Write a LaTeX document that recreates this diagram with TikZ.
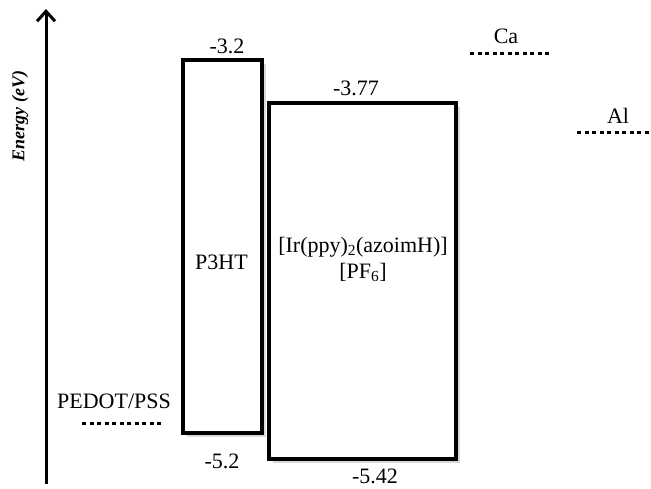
\documentclass[tikz,border=0pt]{standalone}
\usepackage{fontspec}
\setmainfont{Liberation Serif}
\usetikzlibrary{shadows,arrows.meta}
\begin{document}
\begin{tikzpicture}[x=1pt,y=-1pt,
  lvlbox/.style={draw=black,line width=3.5pt,fill=white,inner sep=0pt,
    drop shadow={opacity=0.3,shadow xshift=4pt,shadow yshift=-4pt}},
  lbl/.style={font=\fontsize{22}{26}\selectfont,inner sep=0pt},
  dotline/.style={line width=3pt,dash pattern=on 4pt off 3.5pt},
]
\useasboundingbox (0,0) rectangle (651,488);
% axis
\coordinate (axb) at (46,484);
\coordinate (axt) at (46,9);
\draw[line width=3pt,-{Straight Barb[length=10pt,width=18pt,line width=3pt]}] (axb) -- (axt);
\node[rotate=90,font=\fontsize{18}{20}\selectfont\bfseries\itshape,inner sep=0pt] (en) at (20,116) {Energy (eV)};
% boxes
\node[lvlbox,minimum width=79pt,minimum height=373pt] (p3ht) at (222.5,246.5) {};
\node[lvlbox,minimum width=187pt,minimum height=356pt] (ir) at (362.5,281) {};
% texts in boxes
\node[lbl] (p3htt) at (221.5,262) {P3HT};
\node[lbl,align=center,font=\fontsize{22}{26}\selectfont] (irt) at (363,259) {[Ir(ppy)\textsubscript{2}(azoimH)]\\{}[PF\textsubscript{6}]};
% energy values
\node[lbl] (v1) at (227,46) {-3.2};
\node[lbl] (v2) at (356,88) {-3.77};
\node[lbl] (v3) at (222,461) {-5.2};
\node[lbl] (v4) at (375,476) {-5.42};
% electrodes
\coordinate (pa) at (82,423);
\coordinate (pb) at (163,423);
\draw[dotline] (pa) -- (pb);
\node[lbl] (ped) at (114,401) {PEDOT/PSS};
\coordinate (caa) at (470,53);
\coordinate (cab) at (552,53);
\draw[dotline] (caa) -- (cab);
\node[lbl] (ca) at (506,36) {Ca};
\coordinate (ala) at (577,132);
\coordinate (alb) at (651,132);
\draw[dotline] (ala) -- (alb);
\node[lbl] (al) at (618,116) {Al};
\end{tikzpicture}
\end{document}
